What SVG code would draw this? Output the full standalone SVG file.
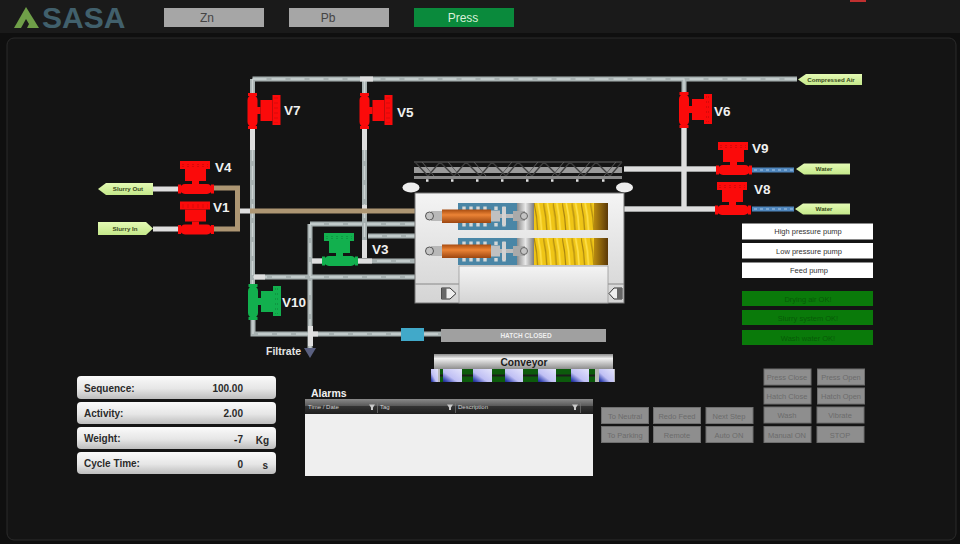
<svg xmlns="http://www.w3.org/2000/svg" xmlns:xlink="http://www.w3.org/1999/xlink" width="960" height="544" viewBox="0 0 960 544">
<style>
text{font-family:"Liberation Sans",Arial,sans-serif}
.vl{font-size:13.5px;font-weight:bold;fill:#f0f0f0}
.pg{fill:none;stroke:#a7b1b1;stroke-width:5}
.ph{fill:none;stroke:#ccd3d3;stroke-width:1.4;stroke-dasharray:14 5}
.pw{fill:none;stroke:#dedede;stroke-width:5}
.pt{fill:none;stroke:#ad9673;stroke-width:5}
.pb{fill:none;stroke:#4f86bd;stroke-width:5}
.tab{fill:url(#tagG)}
.tabt{font-size:6.2px;font-weight:bold;fill:#3a4a20;text-anchor:middle}
.hb{fill:#a6a6a6}
.hbt{font-size:12px;fill:#444;text-anchor:middle}
.pump{fill:#fff}
.pumpt{font-size:7.5px;fill:#333;text-anchor:middle}
.ok{fill:#0a7a0a}
.okt{font-size:7.5px;fill:#075a07;text-anchor:middle}
.bar{fill:url(#barG)}
.bl{font-size:10px;font-weight:bold;fill:#2a2a2a}
.bv{font-size:10px;font-weight:bold;fill:#2a2a2a;text-anchor:end}
.cb{fill:#8e8e8e;stroke:#6f6f6f;stroke-width:1}
.cbt{font-size:7.5px;fill:#6c6c6c;text-anchor:middle}
.th{font-size:6px;fill:#d0d0d0}
.tile{fill:url(#tileG)}
.red{fill:#fb0a0a}
.grn{fill:#12b04e}
</style>
<defs>
<linearGradient id="tagG" x1="0" y1="0" x2="0" y2="1"><stop offset="0" stop-color="#e4fab4"/><stop offset="1" stop-color="#c4e88a"/></linearGradient>
<linearGradient id="barG" x1="0" y1="0" x2="0" y2="1"><stop offset="0" stop-color="#fafafa"/><stop offset="0.55" stop-color="#e6e6e6"/><stop offset="1" stop-color="#bdbdbd"/></linearGradient>
<linearGradient id="convG" x1="0" y1="0" x2="0" y2="1"><stop offset="0" stop-color="#8a8a8a"/><stop offset="0.3" stop-color="#f0f0f0"/><stop offset="1" stop-color="#8e8e8e"/></linearGradient>
<linearGradient id="tileG" x1="1" y1="0" x2="0" y2="1"><stop offset="0" stop-color="#e4e4fb"/><stop offset="0.6" stop-color="#c0c0f4"/><stop offset="0.88" stop-color="#3a4ab4"/><stop offset="1" stop-color="#1a2480"/></linearGradient>
<linearGradient id="pressG" x1="0" y1="0" x2="0" y2="1"><stop offset="0" stop-color="#f4f4f4"/><stop offset="1" stop-color="#d4d4d4"/></linearGradient>
<linearGradient id="orangeG" x1="0" y1="0" x2="0" y2="1"><stop offset="0" stop-color="#a84c10"/><stop offset="0.4" stop-color="#ec8436"/><stop offset="1" stop-color="#9c4610"/></linearGradient>
<linearGradient id="plateG" x1="0" y1="0" x2="1" y2="0"><stop offset="0" stop-color="#8c8c8c"/><stop offset="0.5" stop-color="#e8e8e8"/><stop offset="1" stop-color="#7c7c7c"/></linearGradient>
<linearGradient id="brownG" x1="0" y1="0" x2="1" y2="0"><stop offset="0" stop-color="#b88a10"/><stop offset="1" stop-color="#5a3808"/></linearGradient>
<linearGradient id="headG" x1="0" y1="0" x2="0" y2="1"><stop offset="0" stop-color="#8a8a8a"/><stop offset="0.45" stop-color="#5a5a5a"/><stop offset="0.5" stop-color="#333"/><stop offset="1" stop-color="#1e1e1e"/></linearGradient>
<pattern id="spring" x="534" y="203" width="9.400" height="27" patternUnits="userSpaceOnUse"><rect width="9.400" height="27" fill="#efc516"/><path d="M0 0Q3 13 3.500 27" stroke="#a88410" stroke-width="1.200" fill="none"/><path d="M4 0Q7 13 7.500 27" stroke="#ffe24e" stroke-width="1.600" fill="none"/></pattern>
<g id="valve">
<rect x="-16" y="-28" width="30" height="8"/>
<rect x="-11" y="-20" width="21" height="12"/>
<rect x="-4" y="-8" width="7" height="4"/>
<rect x="-18" y="-4.500" width="3" height="9"/>
<rect x="15" y="-4.500" width="3" height="9"/>
<rect x="-16" y="-5" width="32" height="10" rx="5"/>
<path d="M-14-24.500H12M-14-22.500H12" stroke="#000" stroke-opacity=".28" stroke-width=".5" stroke-dasharray="2 3" fill="none"/>
</g>
<g id="cyl">
<rect x="458" y="203" width="59" height="27" fill="#4a86a6"/>
<path d="M464 206.500v3.500M471 206.500v3.500M478 206.500v3.500M485 206.500v3.500M496 206.500v3.500M504 206.500v3.500M464 223v3.500M471 223v3.500M478 223v3.500M485 223v3.500M496 223v3.500M504 223v3.500" stroke="#d4d8d8" stroke-width="3.400" fill="none"/>
<rect x="534" y="203" width="74" height="27" fill="url(#spring)"/>
<rect x="594" y="203" width="14" height="27" fill="url(#brownG)"/>
<rect x="517" y="203" width="17" height="27" fill="url(#plateG)"/>
<rect x="431" y="211" width="12" height="10" fill="#b8b8b8"/>
<circle cx="429.500" cy="216" r="4" fill="#c4c4c4" stroke="#555"/>
<rect x="442" y="209.500" width="49" height="13.500" fill="url(#orangeG)"/>
<rect x="491" y="210.500" width="9" height="11" fill="#c0c0c0"/>
<rect x="500" y="214" width="13" height="4" fill="#bcbcbc"/>
<rect x="502" y="207" width="4" height="18" fill="#d2d2d2"/>
<rect x="513" y="211" width="12" height="10" fill="#aaa"/>
<circle cx="524" cy="216" r="3.500" fill="#c4c4c4" stroke="#666"/>
</g>
<path id="pipes" d="M252.500 79H797M252.500 79V94M252.500 128V286M253 320V334H401M364.500 79V94M364.500 128V258M684 79V92M684 128V209M310 224V350M310 224H416M368 236H416M358 261H416M253 277H416M312 261H322M424 334H441M624 169H716M624 209H715"/>
</defs>

<rect width="960" height="544" fill="#1a1a1a"/>
<rect x="0" y="33" width="960" height="511" fill="#0f0f0f"/>
<rect x="7" y="38" width="949" height="502" rx="7" fill="#141414" stroke="#2b2b2b"/>
<rect x="850" y="0" width="16" height="2" fill="#c03030"/>

<g id="header">
<path d="M14 28L26 7L39 28Z" fill="#6f9f48"/>
<path d="M21 28L26 19L29 24L27 28Z" fill="#1a1a1a"/>
<text x="42" y="28" font-size="30" font-weight="bold" fill="#41606c">SASA</text>
<g id="tab-zn"><rect class="hb" x="164" y="8" width="100" height="19"/><text class="hbt" x="207" y="22">Zn</text></g>
<g id="tab-pb"><rect class="hb" x="289" y="8" width="100" height="19"/><text class="hbt" x="328" y="22">Pb</text></g>
<g id="tab-press"><rect x="414" y="8" width="100" height="19" fill="#0a8a3c"/><text class="hbt" x="463" y="22" style="fill:#d8efd8">Press</text></g>
</g>

<g id="connectors">
<use xlink:href="#pipes" class="pg"/>
<use xlink:href="#pipes" class="ph"/>
<path class="pw" d="M252.500 129V150M364.500 129V150M364.500 205V214M364.500 240V258M684 128V209M360 79H373M254 277H265M312 261H322M358 261H372M624 169H716M624 209H715M308 334H318M310.500 326V346M238 211H250M153 189H178M153 229H178"/>
<path d="M237.500 205V217" stroke="#dedede" stroke-width="2" fill="none"/>
<path class="pt" d="M214 188H237.500V229H214M250 211H416" stroke-linejoin="miter"/>
<path class="pb" d="M752 170H794M752 209H794"/>
<path d="M754 170H794M754 209H794" stroke="#a8c8e8" stroke-width="1.200" stroke-dasharray="3 3" fill="none"/>
</g>

<g id="slurry-out"><path class="tab" d="M98 189L106 183H153V195H106Z"/><text class="tabt" x="128" y="191">Slurry Out</text></g>
<g id="slurry-in"><path class="tab" d="M98 222H146L153 228.500L146 235H98Z"/><text class="tabt" x="125" y="231">Slurry In</text></g>
<g id="compressed-air"><path class="tab" d="M798 79.500L806 74H862V85H806Z"/><text class="tabt" x="831" y="81.500">Compressed Air</text></g>
<g id="water-1"><path class="tab" d="M796 169L804 163.500H850V174.500H804Z"/><text class="tabt" x="824" y="171">Water</text></g>
<g id="water-2"><path class="tab" d="M795 209L803 203.500H850V214.500H803Z"/><text class="tabt" x="824" y="211">Water</text></g>

<g id="v4"><use xlink:href="#valve" class="red" transform="translate(196,189)"/><text class="vl" x="215" y="172">V4</text></g>
<g id="v1"><use xlink:href="#valve" class="red" transform="translate(196,229.500)"/><text class="vl" x="213" y="212">V1</text></g>
<g id="v7"><use xlink:href="#valve" class="red" transform="translate(252.500,111) rotate(90)"/><text class="vl" x="284" y="115">V7</text></g>
<g id="v5"><use xlink:href="#valve" class="red" transform="translate(364.500,111) rotate(90)"/><text class="vl" x="397" y="117">V5</text></g>
<g id="v6"><use xlink:href="#valve" class="red" transform="translate(684,110) rotate(90)"/><text class="vl" x="714" y="116">V6</text></g>
<g id="v9"><use xlink:href="#valve" class="red" transform="translate(734,170)"/><text class="vl" x="752" y="153">V9</text></g>
<g id="v8"><use xlink:href="#valve" class="red" transform="translate(733,210)"/><text class="vl" x="754" y="194">V8</text></g>
<g id="v3"><use xlink:href="#valve" class="grn" transform="translate(340,261)"/><text class="vl" x="372" y="254">V3</text></g>
<g id="v10"><use xlink:href="#valve" class="grn" transform="translate(253,302) rotate(90)"/><text class="vl" x="282" y="307">V10</text></g>

<g id="filtrate"><path d="M304 348H316L310 358Z" fill="#5a6080"/><text x="266" y="355" font-size="10.500" font-weight="bold" fill="#e4e4e4">Filtrate</text></g>

<g id="screw">
<rect x="414" y="167" width="208" height="6" fill="#9a9a9a"/>
<path d="M414 162H622" stroke="#4a4a4a" stroke-width="1.500"/>
<path d="M415 162L428 176L440 162L454 176L466 162L480 176L492 162L506 176L518 162L532 176L544 162L558 176L570 162L584 176L596 162L610 176L622 162" stroke="#3e3e3e" stroke-width="1.300" fill="none"/>
<path d="M422 162L434 176M448 162L460 176M474 162L486 176M500 176L512 162M526 176L538 162M552 176L564 162M578 176L590 162M604 176L616 162" stroke="#5c5c5c" stroke-width="1" fill="none"/>
<rect x="414" y="176" width="208" height="3" fill="#8a8a8a"/>
<path d="M426 180.500h2.500M451 180.500h2.500M476 180.500h2.500M501 180.500h2.500M526 180.500h2.500M551 180.500h2.500M576 180.500h2.500M602 180.500h2.500" stroke="#e0e0e0" stroke-width="2.500"/>
<ellipse cx="411" cy="187.500" rx="8.500" ry="5" fill="#eee"/>
<ellipse cx="624.500" cy="187.500" rx="8.500" ry="5" fill="#eee"/>
</g>

<g id="press">
<rect x="415" y="193" width="209" height="110" fill="url(#pressG)" stroke="#777"/>
<path d="M415 284H459M608 284H624" stroke="#888"/>
<rect x="459" y="266" width="149" height="37" fill="url(#pressG)" stroke="#999" stroke-width=".8"/>
<use xlink:href="#cyl"/>
<use xlink:href="#cyl" transform="translate(0,35)"/>
<path d="M441.500 288H450L456 293.500L450 299H441.500Z" fill="#eee" stroke="#333" stroke-width="1"/>
<rect x="441.500" y="288" width="5" height="11" fill="#666"/>
<path d="M622 288H614L609 293.500L614 299H622Z" fill="#eee" stroke="#333" stroke-width="1"/>
<rect x="617" y="288" width="5" height="11" fill="#666"/>
</g>

<g id="hatch">
<rect x="401" y="328" width="23" height="13" fill="#41a9c9"/>
<rect x="441" y="329" width="165" height="13" fill="#a0a0a0"/>
<text x="526" y="338" font-size="6.500" font-weight="bold" fill="#eee" text-anchor="middle">HATCH CLOSED</text>
</g>

<g id="conveyor">
<rect x="434" y="354" width="179" height="15" fill="url(#convG)"/>
<text x="524" y="366" font-size="10.200" font-weight="bold" fill="#1c1c1c" text-anchor="middle">Conveyor</text>
<rect x="431" y="369" width="184" height="13" fill="#b8b8b8"/>
<rect x="440" y="369" width="155" height="13" fill="#0c5a0c"/>
<rect x="440" y="374.500" width="155" height="2" fill="#1c1c1c"/>
<rect class="tile" x="431" y="369" width="7" height="13"/>
<rect class="tile" x="443" y="369" width="19" height="13"/>
<rect class="tile" x="473" y="369" width="19" height="13"/>
<rect class="tile" x="505" y="369" width="18" height="13"/>
<rect class="tile" x="538" y="369" width="18" height="13"/>
<rect class="tile" x="571" y="369" width="18" height="13"/>
<rect class="tile" x="599" y="369" width="15" height="13"/>
</g>

<g id="pumps">
<g id="high-pressure-pump"><rect class="pump" x="742" y="223.500" width="131" height="16"/><text class="pumpt" x="808" y="234">High pressure pump</text></g>
<g id="low-pressure-pump"><rect class="pump" x="742" y="243" width="131" height="15.500"/><text class="pumpt" x="809" y="253.500">Low pressure pump</text></g>
<g id="feed-pump"><rect class="pump" x="742" y="262.500" width="131" height="15.500"/><text class="pumpt" x="809" y="273">Feed pump</text></g>
</g>
<g id="status">
<g id="drying-air"><rect class="ok" x="742" y="291" width="131" height="15"/><text class="okt" x="808" y="302">Drying air OK!</text></g>
<g id="slurry-system"><rect class="ok" x="742" y="310" width="131" height="15"/><text class="okt" x="808" y="321">Slurry system OK!</text></g>
<g id="wash-water"><rect class="ok" x="742" y="330" width="131" height="15"/><text class="okt" x="808" y="341">Wash water OK!</text></g>
</g>

<g id="readouts">
<g id="sequence"><rect class="bar" x="77" y="376" width="199" height="23" rx="4"/><text class="bl" x="84" y="392">Sequence:</text><text class="bv" x="243" y="392">100.00</text></g>
<g id="activity"><rect class="bar" x="77" y="402" width="199" height="22" rx="4"/><text class="bl" x="84" y="417">Activity:</text><text class="bv" x="243" y="417">2.00</text></g>
<g id="weight"><rect class="bar" x="77" y="427" width="199" height="22" rx="4"/><text class="bl" x="84" y="442">Weight:</text><text class="bv" x="243" y="443">-7</text><text class="bv" x="269" y="444">Kg</text></g>
<g id="cycle-time"><rect class="bar" x="77" y="452" width="199" height="22" rx="4"/><text class="bl" x="84" y="467">Cycle Time:</text><text class="bv" x="243" y="468">0</text><text class="bv" x="268" y="469">s</text></g>
</g>

<g id="alarms">
<text x="311" y="397" font-size="10.500" font-weight="bold" fill="#f0f0f0">Alarms</text>
<rect x="305" y="399" width="288" height="15" fill="url(#headG)"/>
<rect x="305" y="414" width="288" height="62" fill="#efefef"/>
<path d="M377.500 403V413M455.500 403V413M580.500 403V413" stroke="#777" stroke-width=".7"/>
<path d="M369 404.500H375L373 407.500V410H371V407.500ZM447 404.500H453L451 407.500V410H449V407.500ZM572 404.500H578L576 407.500V410H574V407.500Z" fill="#c8c8c8"/>
<text class="th" x="308" y="409">Time / Date</text>
<text class="th" x="380" y="409">Tag</text>
<text class="th" x="458" y="409">Description</text>
</g>

<g id="commands">
<g id="press-close"><rect class="cb" x="764" y="369" width="47" height="16"/><text class="cbt" x="787" y="380">Press Close</text></g>
<g id="press-open"><rect class="cb" x="817.500" y="369" width="47" height="16"/><text class="cbt" x="841" y="380">Press Open</text></g>
<g id="hatch-close"><rect class="cb" x="764" y="388" width="47" height="16"/><text class="cbt" x="787" y="399">Hatch Close</text></g>
<g id="hatch-open"><rect class="cb" x="817.500" y="388" width="47" height="16"/><text class="cbt" x="841" y="399">Hatch Open</text></g>
<g id="wash"><rect class="cb" x="764" y="407" width="47" height="16"/><text class="cbt" x="787" y="418">Wash</text></g>
<g id="vibrate"><rect class="cb" x="817" y="407" width="47" height="16"/><text class="cbt" x="840" y="418">Vibrate</text></g>
<g id="manual-on"><rect class="cb" x="764" y="426.500" width="47" height="16"/><text class="cbt" x="787" y="437.500">Manual ON</text></g>
<g id="stop"><rect class="cb" x="817" y="426.500" width="47" height="16"/><text class="cbt" x="840" y="437.500">STOP</text></g>
<g id="to-neutral"><rect class="cb" x="601.500" y="407.500" width="47" height="16"/><text class="cbt" x="625" y="418.500">To Neutral</text></g>
<g id="to-parking"><rect class="cb" x="601.500" y="426.500" width="47" height="16"/><text class="cbt" x="625" y="437.500">To Parking</text></g>
<g id="redo-feed"><rect class="cb" x="653.500" y="407.500" width="47" height="16"/><text class="cbt" x="677" y="418.500">Redo Feed</text></g>
<g id="remote"><rect class="cb" x="653.500" y="426.500" width="47" height="16"/><text class="cbt" x="677" y="437.500">Remote</text></g>
<g id="next-step"><rect class="cb" x="706" y="407.500" width="47" height="16"/><text class="cbt" x="729" y="418.500">Next Step</text></g>
<g id="auto-on"><rect class="cb" x="706" y="426.500" width="47" height="16"/><text class="cbt" x="729" y="437.500">Auto ON</text></g>
</g>
</svg>
